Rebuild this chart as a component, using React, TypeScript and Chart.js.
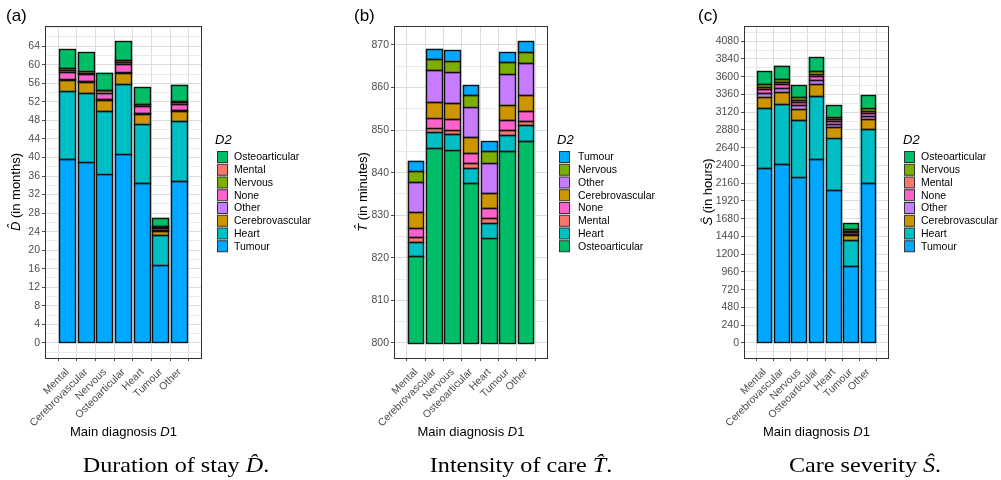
import React, { useEffect, useRef } from 'react';
import { Chart, registerables } from 'chart.js';

Chart.register(...registerables);
Chart.defaults.font.family = "'Liberation Sans', Arial, sans-serif";

// Main diagnosis D1 (x categories)
const categories = ['Mental', 'Cerebrovascular', 'Nervous', 'Osteoarticular', 'Heart', 'Tumour', 'Other'];

// Fill colour of each secondary diagnosis D2
const d2Colors: Record<string, string> = {
  Mental: '#F8766D',
  Cerebrovascular: '#CD9600',
  Nervous: '#7CAE00',
  Osteoarticular: '#00BE67',
  Heart: '#00BFC4',
  Tumour: '#00A9FF',
  Other: '#C77CFF',
  None: '#FF61CC',
};

// (a) Duration of stay, months: contribution of each D2 level per D1 category
const durTumour = [39.6, 39.1, 36.5, 40.8, 34.5, 16.9, 34.9];
const durHeart = [14.8, 14.7, 13.5, 15.1, 12.8, 6.3, 13.0];
const durCerebrovascular = [2.4, 2.4, 2.4, 2.4, 2.1, 1.0, 2.1];
const durOther = [0.2, 0.2, 0.2, 0.2, 0.2, 0.1, 0.2];
const durNone = [1.5, 1.6, 1.4, 1.7, 1.4, 0.4, 1.4];
const durNervous = [0.4, 0.3, 0.5, 0.3, 0.5, 0.3, 0.4];
const durMental = [0.4, 0.4, 0.1, 0.5, 0.1, 0.2, 0.2];
const durOsteoarticular = [4.0, 4.0, 3.7, 4.1, 3.5, 1.8, 3.5];
const durTicks = [0, 4, 8, 12, 16, 20, 24, 28, 32, 36, 40, 44, 48, 52, 56, 60, 64];

// (b) Intensity of care, minutes: bars rise from 800
const intBase = 800;
const intOsteoarticular = [20.3, 45.8, 45.4, 37.6, 24.7, 45.1, 47.4];
const intHeart = [3.4, 3.8, 3.6, 3.5, 3.5, 3.8, 3.7];
const intMental = [1.1, 1.0, 1.1, 1.1, 1.1, 1.0, 1.0];
const intNone = [2.1, 2.3, 2.4, 2.3, 2.3, 2.4, 2.3];
const intCerebrovascular = [3.8, 3.7, 3.8, 3.8, 3.6, 3.7, 3.8];
const intOther = [7.1, 7.4, 7.4, 7.2, 7.1, 7.2, 7.5];
const intNervous = [2.6, 2.6, 2.6, 2.7, 2.8, 2.7, 2.6];
const intTumour = [2.4, 2.5, 2.4, 2.4, 2.3, 2.4, 2.6];
const intTicks = [800, 810, 820, 830, 840, 850, 860, 870];

// (c) Care severity, hours
const sevTumour = [2365, 2419, 2248, 2487, 2067, 1038, 2157];
const sevHeart = [808, 817, 762, 848, 709, 357, 731];
const sevCerebrovascular = [158, 162, 158, 167, 144, 63, 145];
const sevOther = [49, 50, 50, 50, 45, 18, 40];
const sevNone = [55, 54, 45, 59, 41, 18, 41];
const sevMental = [22, 23, 23, 31, 22, 13, 23];
const sevNervous = [41, 40, 36, 36, 32, 27, 45];
const sevOsteoarticular = [176, 185, 167, 185, 153, 82, 167];
const sevTicks = [0, 240, 480, 720, 960, 1200, 1440, 1680, 1920, 2160, 2400, 2640, 2880, 3120, 3360, 3600, 3840, 4080];

interface PanelSpec {
  segments: Record<string, number[]>;
  stack: string[]; // bottom to top
  legend: string[]; // top to bottom
  base: number;
  yMin: number;
  yMax: number;
  ticks: number[];
  sym: string;
  unit: string;
}

const durationSpec: PanelSpec = {
  segments: {
    Tumour: durTumour, Heart: durHeart, Cerebrovascular: durCerebrovascular, Other: durOther,
    None: durNone, Nervous: durNervous, Mental: durMental, Osteoarticular: durOsteoarticular,
  },
  stack: ['Tumour', 'Heart', 'Cerebrovascular', 'Other', 'None', 'Nervous', 'Mental', 'Osteoarticular'],
  legend: ['Osteoarticular', 'Mental', 'Nervous', 'None', 'Other', 'Cerebrovascular', 'Heart', 'Tumour'],
  base: 0,
  yMin: -3.26,
  yMax: 68.36,
  ticks: durTicks,
  sym: 'D',
  unit: '(in months)',
};

const intensitySpec: PanelSpec = {
  segments: {
    Osteoarticular: intOsteoarticular, Heart: intHeart, Mental: intMental, None: intNone,
    Cerebrovascular: intCerebrovascular, Other: intOther, Nervous: intNervous, Tumour: intTumour,
  },
  stack: ['Osteoarticular', 'Heart', 'Mental', 'None', 'Cerebrovascular', 'Other', 'Nervous', 'Tumour'],
  legend: ['Tumour', 'Nervous', 'Other', 'Cerebrovascular', 'None', 'Mental', 'Heart', 'Osteoarticular'],
  base: intBase,
  yMin: 796.45,
  yMax: 874.45,
  ticks: intTicks,
  sym: 'T',
  unit: '(in minutes)',
};

const severitySpec: PanelSpec = {
  segments: {
    Tumour: sevTumour, Heart: sevHeart, Cerebrovascular: sevCerebrovascular, Other: sevOther,
    None: sevNone, Mental: sevMental, Nervous: sevNervous, Osteoarticular: sevOsteoarticular,
  },
  stack: ['Tumour', 'Heart', 'Cerebrovascular', 'Other', 'None', 'Mental', 'Nervous', 'Osteoarticular'],
  legend: ['Osteoarticular', 'Nervous', 'Mental', 'None', 'Other', 'Cerebrovascular', 'Heart', 'Tumour'],
  base: 0,
  yMin: -204,
  yMax: 4286,
  ticks: sevTicks,
  sym: 'S',
  unit: '(in hours)',
};

interface PanelLayout {
  canvasLeft: number;
  canvasWidth: number;
  areaLeft: number; // local to canvas
  areaRight: number;
  yTitleX: number;
  legendTitleX: number;
  legendKeyX: number;
  legendTextX: number;
}

const H = 480;
const AREA_TOP = 26;
const AREA_BOTTOM = 358;
const SANS = "'Liberation Sans', Arial, sans-serif";

const layouts: PanelLayout[] = [
  { canvasLeft: 0, canvasWidth: 345, areaLeft: 45, areaRight: 202, yTitleX: 16, legendTitleX: 215, legendKeyX: 217, legendTextX: 234 },
  { canvasLeft: 345, canvasWidth: 345, areaLeft: 49, areaRight: 203, yTitleX: 18, legendTitleX: 212, legendKeyX: 214, legendTextX: 233 },
  { canvasLeft: 690, canvasWidth: 311, areaLeft: 54, areaRight: 199, yTitleX: 18, legendTitleX: 213, legendKeyX: 214, legendTextX: 231 },
];

// Gridline positions: majors plus the half steps in between, kept within the axis range
function gridValues(ticks: number[], lo: number, hi: number): number[] {
  const step = ticks[1] - ticks[0];
  const out: number[] = [];
  const first = ticks[0] - step;
  const last = ticks[ticks.length - 1] + step;
  for (let v = first; v <= last + 1e-9; v += step / 2) {
    if (v >= lo && v <= hi) out.push(Math.round(v * 1000) / 1000);
  }
  return out;
}

// Crisp black outlines on every bar segment, shared between stacked neighbours
const outlinePlugin = {
  id: 'barOutline',
  afterDatasetsDraw(chart: any) {
    const { ctx } = chart;
    ctx.save();
    ctx.strokeStyle = '#111111';
    ctx.lineWidth = 1.4;
    chart.data.datasets.forEach((_: any, di: number) => {
      const meta = chart.getDatasetMeta(di);
      meta.data.forEach((el: any) => {
        const { x, y, base, width } = el.getProps(['x', 'y', 'base', 'width'], true);
        const l = Math.round(x - width / 2) + 0.5;
        const r = Math.round(x + width / 2) - 0.5;
        const t = Math.round(Math.min(y, base)) + 0.5;
        const b = Math.round(Math.max(y, base)) + 0.5;
        ctx.strokeRect(l, t, r - l, Math.max(b - t, 0));
      });
    });
    ctx.restore();
  },
};

const framePlugin = {
  id: 'panelFrame',
  afterDraw(chart: any, _args: any, opts: any) {
    const { ctx, chartArea } = chart;
    ctx.save();
    ctx.strokeStyle = '#333333';
    ctx.lineWidth = 1;
    ctx.strokeRect(chartArea.left + 0.5, chartArea.top + 0.5, chartArea.right - chartArea.left - 1, chartArea.bottom - chartArea.top);

    // rotated y axis title: italic hatted symbol followed by the unit
    const symText = opts.sym + '\u0302';
    const unitText = ' ' + opts.unit;
    ctx.font = 'italic 13px ' + SANS;
    const w1 = ctx.measureText(symText).width;
    ctx.font = '13px ' + SANS;
    const w2 = ctx.measureText(unitText).width;
    ctx.translate(opts.titleX, (chartArea.top + chartArea.bottom) / 2);
    ctx.rotate(-Math.PI / 2);
    ctx.fillStyle = '#000';
    ctx.textBaseline = 'middle';
    ctx.textAlign = 'left';
    const start = -(w1 + w2) / 2;
    ctx.font = 'italic 13px ' + SANS;
    ctx.fillText(symText, start, 0);
    ctx.font = '13px ' + SANS;
    ctx.fillText(unitText, start + w1, 0);
    ctx.restore();
  },
};

const d2LegendPlugin = {
  id: 'd2Legend',
  afterDraw(chart: any, _args: any, opts: any) {
    const { ctx } = chart;
    const items: string[] = opts.items || [];
    ctx.save();
    ctx.fillStyle = '#000';
    ctx.textBaseline = 'middle';
    ctx.textAlign = 'left';
    ctx.font = 'italic 13px ' + SANS;
    ctx.fillText(opts.title, opts.titleX, 140);
    ctx.font = '10.5px ' + SANS;
    items.forEach((name, i) => {
      const cy = 157 + i * 12.75;
      ctx.fillStyle = d2Colors[name];
      ctx.fillRect(opts.keyX, cy - 5.5, 10, 11);
      ctx.strokeStyle = '#333333';
      ctx.lineWidth = 1;
      ctx.strokeRect(opts.keyX + 0.5, cy - 5.5, 10, 11);
      ctx.fillStyle = '#000';
      ctx.fillText(name, opts.textX, cy + 0.5);
    });
    ctx.restore();
  },
};

function buildConfig(spec: PanelSpec, lay: PanelLayout): any {
  const cumulative = categories.map(() => spec.base);
  const datasets = spec.stack.map((name) => {
    const values = spec.segments[name];
    const data = categories.map((_, i) => {
      const lo = cumulative[i];
      const hi = lo + values[i];
      cumulative[i] = hi;
      return { x: i + 1, y: [lo, hi] };
    });
    return {
      label: name,
      data,
      backgroundColor: d2Colors[name],
      borderWidth: 0,
      grouped: false,
      barPercentage: 0.9,
      categoryPercentage: 1,
    };
  });

  const majors = new Set(spec.ticks.map((t) => Math.round(t * 1000) / 1000));
  const isMajor = (v: number) => majors.has(Math.round(v * 1000) / 1000);
  const yGrid = gridValues(spec.ticks, spec.yMin, spec.yMax);

  return {
    type: 'bar',
    data: { datasets },
    plugins: [outlinePlugin, framePlugin, d2LegendPlugin],
    options: {
      responsive: false,
      animation: false,
      devicePixelRatio: 1,
      layout: { padding: { left: 0, top: AREA_TOP, right: lay.canvasWidth - lay.areaRight, bottom: 0 } },
      plugins: {
        legend: { display: false },
        tooltip: { enabled: false },
        panelFrame: { sym: spec.sym, unit: spec.unit, titleX: lay.yTitleX },
        d2Legend: {
          title: 'D2',
          items: spec.legend,
          titleX: lay.legendTitleX,
          keyX: lay.legendKeyX,
          textX: lay.legendTextX,
        },
      },
      scales: {
        x: {
          type: 'linear',
          min: 0.4,
          max: 7.6,
          afterBuildTicks: (scale: any) => {
            scale.ticks = categories.map((_, i) => ({ value: i + 1 }));
          },
          afterFit: (scale: any) => {
            scale.height = H - AREA_BOTTOM;
          },
          ticks: {
            autoSkip: false,
            minRotation: 45,
            maxRotation: 45,
            padding: 5,
            color: '#4D4D4D',
            font: { size: 10.5 },
            callback: (v: number) => categories[Math.round(v) - 1] ?? '',
          },
          grid: {
            color: '#DEDEDE',
            tickColor: '#4D4D4D',
            tickLength: 3,
            lineWidth: 1,
          },
          border: { display: false },
        },
        y: {
          type: 'linear',
          min: spec.yMin,
          max: spec.yMax,
          afterBuildTicks: (scale: any) => {
            scale.ticks = yGrid.map((v) => ({ value: v }));
          },
          afterFit: (scale: any) => {
            scale.width = lay.areaLeft;
          },
          ticks: {
            autoSkip: false,
            padding: 2,
            color: '#4D4D4D',
            font: { size: 10.5 },
            callback: (v: number) => (isMajor(v) ? String(v) : ''),
          },
          grid: {
            color: (c: any) => (c.tick && isMajor(c.tick.value) ? '#DCDCDC' : '#EAEAEA'),
            tickColor: (c: any) => (c.tick && isMajor(c.tick.value) ? '#4D4D4D' : 'rgba(0,0,0,0)'),
            tickLength: 3,
            lineWidth: 1,
          },
          border: { display: false },
        },
      },
    },
  };
}

function Panel({ spec, lay }: { spec: PanelSpec; lay: PanelLayout }) {
  const ref = useRef<HTMLCanvasElement>(null);
  useEffect(() => {
    const chart = new Chart(ref.current as HTMLCanvasElement, buildConfig(spec, lay));
    return () => chart.destroy();
  }, [spec, lay]);
  return (
    <canvas
      ref={ref}
      width={lay.canvasWidth}
      height={H}
      style={{ position: 'absolute', left: lay.canvasLeft, top: 0, width: lay.canvasWidth, height: H }}
    />
  );
}

const serif = "'Liberation Serif', 'Times New Roman', serif";

function XTitle({ x }: { x: number }) {
  return (
    <div
      style={{
        position: 'absolute', left: x, top: 431, transform: 'translate(-50%, -50%)',
        whiteSpace: 'nowrap', fontFamily: SANS, fontSize: 13, lineHeight: '15px', color: '#000',
      }}
    >
      Main diagnosis <span style={{ fontStyle: 'italic' }}>D</span>1
    </div>
  );
}

function Caption({ x, text, sym }: { x: number; text: string; sym: string }) {
  return (
    <div
      style={{
        position: 'absolute', left: x, top: 455, transform: 'translateX(-50%) scaleX(1.15)',
        whiteSpace: 'nowrap', fontFamily: serif, fontSize: 21, lineHeight: '21px', color: '#000',
      }}
    >
      {text} <span style={{ fontStyle: 'italic' }}>{sym + '\u0302'}</span>.
    </div>
  );
}

function PanelTag({ x, tag }: { x: number; tag: string }) {
  return (
    <div
      style={{
        position: 'absolute', left: x, top: 6, fontFamily: SANS, fontSize: 17,
        lineHeight: '19px', color: '#000', whiteSpace: 'nowrap',
      }}
    >
      {tag}
    </div>
  );
}

export default function App() {
  return (
    <div style={{ position: 'absolute', left: 0, top: 0, width: 1001, height: H, background: '#fff', overflow: 'hidden' }}>
      <Panel spec={durationSpec} lay={layouts[0]} />
      <Panel spec={intensitySpec} lay={layouts[1]} />
      <Panel spec={severitySpec} lay={layouts[2]} />

      <PanelTag x={6} tag="(a)" />
      <PanelTag x={354} tag="(b)" />
      <PanelTag x={698} tag="(c)" />

      <XTitle x={123.5} />
      <XTitle x={471} />
      <XTitle x={816.5} />

      <Caption x={176} text="Duration of stay" sym="D" />
      <Caption x={521} text="Intensity of care" sym="T" />
      <Caption x={865} text="Care severity" sym="S" />
    </div>
  );
}
